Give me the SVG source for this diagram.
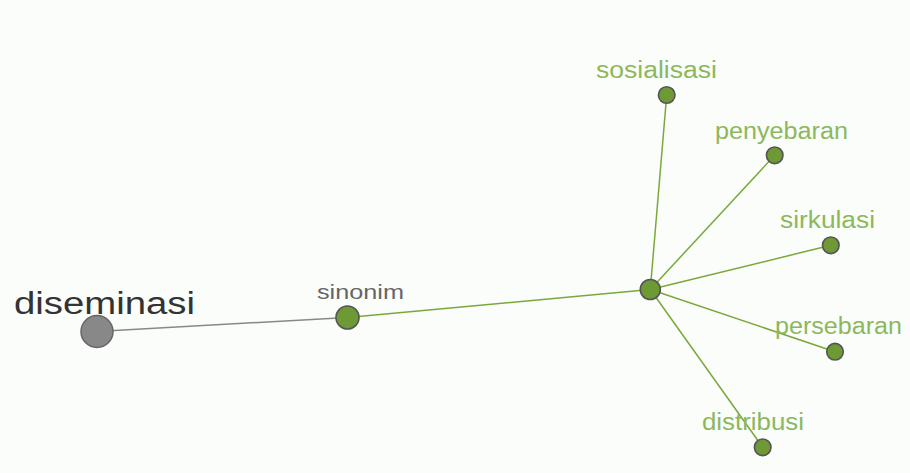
<svg xmlns="http://www.w3.org/2000/svg" width="910" height="473" viewBox="0 0 910 473">
<style>
.lbl{font-family:"Liberation Sans",Arial,sans-serif;fill:#8cb85c;font-size:23px}
.leaf{fill:#6e9a35;stroke:#555;stroke-width:1.6}
.e{stroke:#7aa83a;stroke-width:1.5;fill:none}
</style>
<rect width="910" height="473" fill="#fbfdfb"/>
<g id="edges">
<line x1="97" y1="331.5" x2="347.5" y2="317.5" stroke="#888" stroke-width="1.5"/>
<line class="e" x1="347.5" y1="317.5" x2="650.3" y2="289.5"/>
<line class="e" x1="650.3" y1="289.5" x2="666.7" y2="95"/>
<line class="e" x1="650.3" y1="289.5" x2="774.7" y2="155.3"/>
<line class="e" x1="650.3" y1="289.5" x2="830.8" y2="245.3"/>
<line class="e" x1="650.3" y1="289.5" x2="835" y2="351.7"/>
<line class="e" x1="650.3" y1="289.5" x2="762.7" y2="447.3"/>
</g>
<g id="diseminasi">
<circle cx="97" cy="331.5" r="16" fill="#888" stroke="#666" stroke-width="1.5"/>
<text x="14" y="314" font-family="Liberation Sans,Arial,sans-serif" font-size="31" fill="#333" textLength="181" lengthAdjust="spacingAndGlyphs">diseminasi</text>
</g>
<g id="sinonim">
<circle cx="347.5" cy="317.5" r="11.5" fill="#6e9a35" stroke="#555" stroke-width="1.6"/>
<text x="317" y="298.5" font-family="Liberation Sans,Arial,sans-serif" font-size="21" fill="#666" textLength="87" lengthAdjust="spacingAndGlyphs">sinonim</text>
</g>
<g id="hub">
<circle cx="650.3" cy="289.5" r="10" fill="#6e9a35" stroke="#555" stroke-width="1.6"/>
</g>
<g id="sosialisasi">
<circle class="leaf" cx="666.7" cy="95" r="8.3"/>
<text class="lbl" x="596" y="77.5" textLength="121" lengthAdjust="spacingAndGlyphs">sosialisasi</text>
</g>
<g id="penyebaran">
<circle class="leaf" cx="774.7" cy="155.3" r="8.3"/>
<text class="lbl" x="715" y="138.5" textLength="133" lengthAdjust="spacingAndGlyphs">penyebaran</text>
</g>
<g id="sirkulasi">
<circle class="leaf" cx="830.8" cy="245.3" r="8.3"/>
<text class="lbl" x="780" y="227.5" textLength="95" lengthAdjust="spacingAndGlyphs">sirkulasi</text>
</g>
<g id="persebaran">
<circle class="leaf" cx="835" cy="351.7" r="8.3"/>
<text class="lbl" x="775" y="334" textLength="127" lengthAdjust="spacingAndGlyphs">persebaran</text>
</g>
<g id="distribusi">
<circle class="leaf" cx="762.7" cy="447.3" r="8.3"/>
<text class="lbl" x="702" y="430" textLength="102" lengthAdjust="spacingAndGlyphs">distribusi</text>
</g>
</svg>
